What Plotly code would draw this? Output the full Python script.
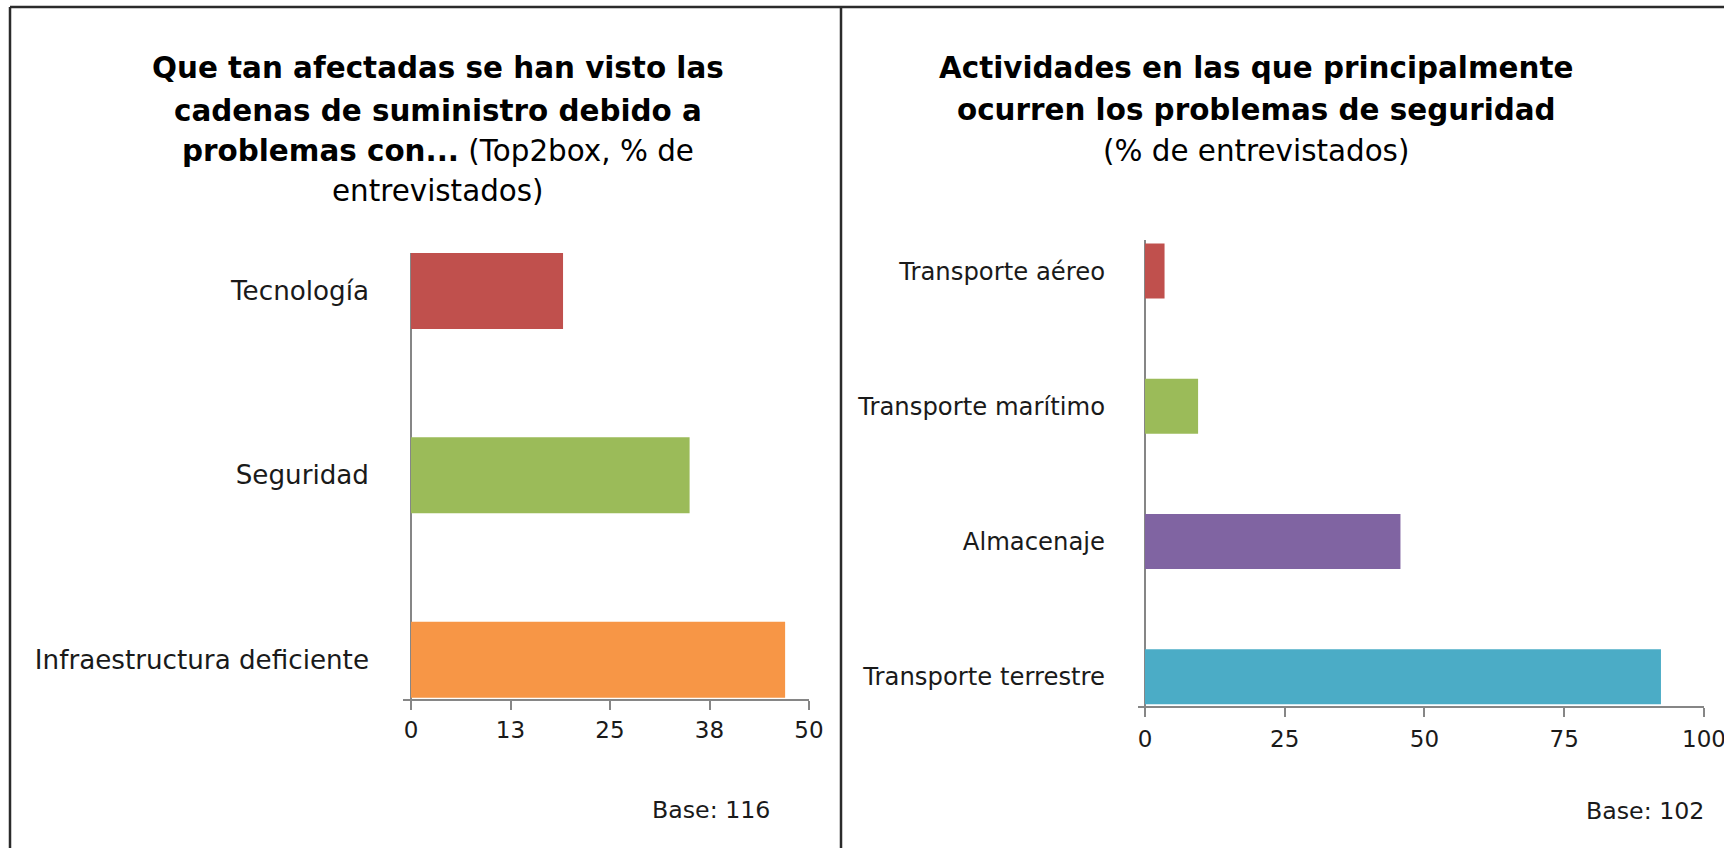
import plotly.graph_objects as go

W, H = 1724, 848

# ---- data ----
left_categories = ["Tecnología", "Seguridad", "Infraestructura deficiente"]
left_values = [19.1, 35.0, 47.0]
left_colors = ["#C0504D", "#9BBB59", "#F79646"]
left_tickvals = [0, 12.5, 25, 37.5, 50]
left_ticktext = ["0", "13", "25", "38", "50"]

right_categories = ["Transporte aéreo", "Transporte marítimo", "Almacenaje", "Transporte terrestre"]
right_values = [3.5, 9.5, 45.7, 92.3]
right_colors = ["#C0504D", "#9BBB59", "#8064A2", "#4BACC6"]
right_tickvals = [0, 25, 50, 75, 100]
right_ticktext = ["0", "25", "50", "75", "100"]

FONT = "DejaVu Sans"
AXC = "#868686"


def px(x):
    return x / W


def py(y):
    return 1 - y / H


fig = go.Figure()
fig.add_trace(go.Bar(
    x=left_values, y=left_categories, orientation="h",
    marker=dict(color=left_colors, line=dict(width=0)),
    width=0.4125, xaxis="x", yaxis="y", hoverinfo="x+y",
))
fig.add_trace(go.Bar(
    x=right_values, y=right_categories, orientation="h",
    marker=dict(color=right_colors, line=dict(width=0)),
    width=0.407, xaxis="x2", yaxis="y2", hoverinfo="x+y",
))

xcommon = dict(
    showgrid=False, showline=True, linecolor=AXC, linewidth=1.6,
    ticks="outside", ticklen=9, tickwidth=1.6, tickcolor=AXC,
    zeroline=True, zerolinecolor=AXC, zerolinewidth=1.6,
    tickfont=dict(family=FONT, size=23, color="#1a1a1a"),
    fixedrange=True, automargin=False, ticklabeloverflow="allow",
)
ycommon = dict(
    type="category", showgrid=False, showline=False, zeroline=False,
    ticks="", fixedrange=True, automargin=False,
)

fig.update_layout(
    width=W, height=H,
    margin=dict(l=0, r=0, t=0, b=0, pad=0, autoexpand=False),
    paper_bgcolor="white", plot_bgcolor="white",
    showlegend=False,
    xaxis=dict(xcommon, domain=[px(403), px(809)], range=[-1.005, 50],
               tickvals=left_tickvals, ticktext=left_ticktext, anchor="y"),
    yaxis=dict(ycommon, domain=[py(699.3), py(253)], range=[-0.215, 2.206],
               categoryorder="array", categoryarray=left_categories[::-1],
               anchor="x", ticklabelstandoff=33,
               tickfont=dict(family=FONT, size=26.2, color="#1a1a1a")),
    xaxis2=dict(xcommon, domain=[px(1138), px(1704)], range=[-1.25, 100],
                tickvals=right_tickvals, ticktext=right_ticktext, anchor="y2",
                ticklabelstandoff=3),
    yaxis2=dict(ycommon, domain=[py(706), py(240)], range=[-0.217, 3.23],
                categoryorder="array", categoryarray=right_categories[::-1],
                anchor="x2", ticklabelstandoff=32,
                tickfont=dict(family=FONT, size=24.3, color="#1a1a1a")),
)

# ---- titles ----
ann = []
TB = dict(family=FONT, size=29.4, color="#000000")
left_lines = [
    ("<b>Que tan afectadas se han visto las</b>", 68),
    ("<b>cadenas de suministro debido a</b>", 111),
    ("<b>problemas con...</b> (Top2box, % de", 151),
    ("entrevistados)", 191),
]
for t, y in left_lines:
    ann.append(dict(text=t, x=px(438), y=py(y), xref="paper", yref="paper",
                    xanchor="center", yanchor="middle", showarrow=False, font=TB))
right_lines = [
    ("<b>Actividades en las que principalmente</b>", 68),
    ("<b>ocurren los problemas de seguridad</b>", 110),
    ("(% de entrevistados)", 151),
]
for t, y in right_lines:
    ann.append(dict(text=t, x=px(1256), y=py(y), xref="paper", yref="paper",
                    xanchor="center", yanchor="middle", showarrow=False, font=TB))

ann.append(dict(text="Base: 116", x=px(772), y=py(810), xref="paper", yref="paper",
                xanchor="right", yanchor="middle", showarrow=False,
                font=dict(family=FONT, size=23.7, color="#1a1a1a")))
ann.append(dict(text="Base: 102", x=px(1706), y=py(811), xref="paper", yref="paper",
                xanchor="right", yanchor="middle", showarrow=False,
                font=dict(family=FONT, size=23.7, color="#1a1a1a")))
fig.update_layout(annotations=ann)

# ---- frame ----
FR = dict(color="#2b2b2b", width=2.5)
shapes = [
    dict(type="line", xref="paper", yref="paper", x0=px(10), x1=1, y0=py(7), y1=py(7), line=FR),
    dict(type="line", xref="paper", yref="paper", x0=px(10), x1=px(10), y0=py(7), y1=0, line=FR),
    dict(type="line", xref="paper", yref="paper", x0=px(841), x1=px(841), y0=py(7), y1=0, line=FR),
]
fig.update_layout(shapes=shapes)

fig.write_html(
    "out.html",
    config={"displayModeBar": False},
    post_script="document.body.style.margin='0';document.body.style.overflow='hidden';",
)
